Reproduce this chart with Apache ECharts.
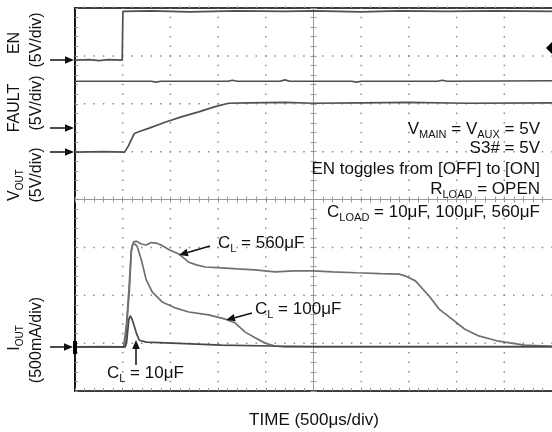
<!DOCTYPE html>
<html>
<head>
<meta charset="utf-8">
<script src="https://cdn.jsdelivr.net/npm/echarts@6/dist/echarts.min.js"></script>
<style>html,body{margin:0;padding:0;background:#fff}#c{width:552px;height:432px}</style>
</head>
<body>
<div id="c"></div>
<script>
// Time axis: µs relative to the screen centre (500 µs/div, 10 divisions)
const timeRange = [-2500, 2500];
const timeStep = 500;
// Vertical axis: screen divisions relative to the centre (8 divisions)
const divRange = [-4, 4];
const divStep = 1;

// Traces: [time µs, position in divisions]
const enTrace = [[-2500,2.91],[-2350,2.92],[-2250,2.90],[-2150,2.92],[-2005,2.91],[-1998,3.93],[-1700,3.94],[-1300,3.92],[-800,3.94],[-300,3.93],[0,3.94],[500,3.92],[900,3.94],[1400,3.93],[1900,3.94],[2500,3.93]];
const faultTrace = [[-2500,2.47],[-1700,2.47],[-1650,2.45],[-1600,2.47],[-900,2.47],[-850,2.49],[-800,2.47],[-350,2.47],[-300,2.50],[-250,2.47],[400,2.47],[450,2.45],[500,2.47],[1300,2.47],[1350,2.49],[1400,2.47],[2500,2.48]];
const voutTrace = [[-2500,0.99],[-2200,1.00],[-1980,0.99],[-1964,1.00],[-1940,1.12],[-1912,1.24],[-1878,1.38],[-1826,1.42],[-1722,1.49],[-1549,1.62],[-1377,1.73],[-1203,1.83],[-1030,1.94],[-892,2.01],[-685,2.02],[-300,2.03],[0,2.01],[500,2.02],[1000,2.03],[1600,2.01],[2500,2.02]];
const iout560 = [[-2500,-3.08],[-2200,-3.07],[-1990,-3.08],[-1960,-2.60],[-1935,-1.89],[-1910,-1.06],[-1888,-0.89],[-1857,-0.87],[-1805,-0.93],[-1753,-0.95],[-1701,-0.90],[-1650,-0.91],[-1597,-0.95],[-1514,-1.05],[-1411,-1.14],[-1307,-1.31],[-1220,-1.37],[-1131,-1.41],[-965,-1.43],[-800,-1.45],[-612,-1.47],[-405,-1.51],[-200,-1.49],[0,-1.49],[200,-1.51],[446,-1.53],[700,-1.55],[900,-1.56],[965,-1.60],[1068,-1.70],[1214,-2.02],[1317,-2.29],[1452,-2.50],[1587,-2.71],[1732,-2.85],[1940,-2.96],[2075,-3.00],[2210,-3.04],[2448,-3.06],[2500,-3.07]];
const iout100 = [[-2500,-3.08],[-1975,-3.08],[-1960,-3.04],[-1930,-1.90],[-1910,-1.10],[-1898,-0.95],[-1870,-0.93],[-1846,-0.99],[-1805,-1.26],[-1753,-1.68],[-1691,-1.93],[-1587,-2.14],[-1442,-2.27],[-1307,-2.35],[-1100,-2.41],[-923,-2.50],[-819,-2.58],[-716,-2.77],[-612,-2.89],[-508,-3.00],[-405,-3.06],[-300,-3.08],[2500,-3.08]];
const iout10 = [[-2500,-3.08],[-1975,-3.08],[-1960,-3.00],[-1935,-2.50],[-1919,-2.43],[-1898,-2.52],[-1870,-2.70],[-1857,-2.79],[-1826,-2.94],[-1753,-2.98],[-1483,-3.00],[-965,-3.04],[-446,-3.06],[0,-3.07],[2500,-3.07]];

const FONT = 'Liberation Sans, Arial, sans-serif';
const INK = '#111';

function arrow(x1, y1, x2, y2) {
  const dx = x2 - x1, dy = y2 - y1, L = Math.hypot(dx, dy);
  const ux = dx / L, uy = dy / L, hl = 9, hw = 3.8;
  const bx = x2 - ux * hl, by = y2 - uy * hl;
  return [
    {type:'line', shape:{x1:x1, y1:y1, x2:bx, y2:by}, style:{stroke:INK, lineWidth:1.5}, z:100},
    {type:'polygon', shape:{points:[[x2,y2],[bx - uy*hw, by + ux*hw],[bx + uy*hw, by - ux*hw]]}, style:{fill:INK}, z:100}
  ];
}
function richSet(size, sub) {
  return {
    m: {fontSize:size, fontFamily:FONT, fill:INK, lineHeight:size + 5},
    s: {fontSize:sub, fontFamily:FONT, fill:INK, lineHeight:sub, verticalAlign:'bottom'}
  };
}
function txt(x, y, text, opts) {
  opts = opts || {};
  const size = opts.size || 17;
  return {
    type:'text', x:x, y:y, rotation: opts.rot || 0, z:100,
    style:{text:text, rich: richSet(size, opts.sub || Math.round(size*0.64)), align: opts.align || 'left', verticalAlign:'middle'}
  };
}

const baseAxis = {type:'value', min:timeRange[0], max:timeRange[1], interval:timeStep, axisLabel:{show:false}, splitLine:{show:false}};
const baseY = {type:'value', min:divRange[0], max:divRange[1], interval:divStep, axisLabel:{show:false}, splitLine:{show:false}};
const tickGray = '#9a9a9a';

const xAxes = [
  Object.assign({}, baseAxis, {position:'bottom', axisLine:{show:true, onZero:false, lineStyle:{color:'#000', width:1.6}},
    axisTick:{show:true, inside:true, length:3, lineStyle:{color:'#888'}},
    minorTick:{show:true, splitNumber:5, length:3, lineStyle:{color:'#999'}}}),
  Object.assign({}, baseAxis, {position:'bottom', axisLine:{show:true, onZero:true, onZeroAxisIndex:0, lineStyle:{color:tickGray, width:1}},
    axisTick:{show:true, inside:true, length:3, lineStyle:{color:tickGray}},
    minorTick:{show:true, splitNumber:5, length:3, lineStyle:{color:tickGray}}}),
  Object.assign({}, baseAxis, {position:'bottom', axisLine:{show:false, onZero:true, onZeroAxisIndex:0},
    axisTick:{show:true, inside:false, length:3, lineStyle:{color:tickGray}},
    minorTick:{show:true, splitNumber:5, length:3, lineStyle:{color:tickGray}}}),
  Object.assign({}, baseAxis, {position:'top', axisLine:{show:true, onZero:false, lineStyle:{color:'#000', width:1.6}},
    axisTick:{show:false}, minorTick:{show:true, splitNumber:5, length:2, lineStyle:{color:'#aaa'}}})
];
const yAxes = [
  Object.assign({}, baseY, {position:'left', axisLine:{show:true, onZero:false, lineStyle:{color:'#000', width:1.8}},
    axisTick:{show:true, inside:true, length:3, lineStyle:{color:'#888'}},
    minorTick:{show:true, splitNumber:5, length:3, lineStyle:{color:'#999'}}}),
  Object.assign({}, baseY, {position:'left', axisLine:{show:true, onZero:true, onZeroAxisIndex:0, lineStyle:{color:tickGray, width:1}},
    axisTick:{show:true, inside:true, length:3, lineStyle:{color:tickGray}},
    minorTick:{show:true, splitNumber:5, length:3, lineStyle:{color:tickGray}}}),
  Object.assign({}, baseY, {position:'left', axisLine:{show:false, onZero:true, onZeroAxisIndex:0},
    axisTick:{show:true, inside:false, length:3, lineStyle:{color:tickGray}},
    minorTick:{show:true, splitNumber:5, length:3, lineStyle:{color:tickGray}}})
];

function trace(name, data, color, w) {
  return {name:name, type:'line', data:data, xAxisIndex:0, yAxisIndex:0, symbol:'none', silent:true,
    lineStyle:{color:color, width:w}, z:10, animation:false};
}

const labels = [].concat(
  // left-side channel labels (rotated)
  txt(15, 43, '{m|EN}', {rot:Math.PI/2, size:16, align:'center'}),
  txt(37, 40, '{m|(5V/div)}', {rot:Math.PI/2, size:16, align:'center'}),
  txt(15, 108, '{m|FAULT}', {rot:Math.PI/2, size:16, align:'center'}),
  txt(37, 103, '{m|(5V/div)}', {rot:Math.PI/2, size:16, align:'center'}),
  txt(15, 185, '{m|V}{s|OUT}', {rot:Math.PI/2, size:16, align:'center'}),
  txt(37, 175, '{m|(5V/div)}', {rot:Math.PI/2, size:16, align:'center'}),
  txt(15, 338, '{m|I}{s|OUT}', {rot:Math.PI/2, size:16, align:'center'}),
  txt(37, 340, '{m|(500mA/div)}', {rot:Math.PI/2, size:16, align:'center'}),
  arrow(50, 60, 74, 60),
  arrow(50, 128, 74, 128),
  arrow(50, 152, 74, 152),
  arrow(50, 347, 73, 347),
  [{type:'rect', shape:{x:73, y:341, width:4, height:13}, style:{fill:'#000'}, z:100}],
  [{type:'polygon', shape:{points:[[546,48],[553,41],[560,48],[553,55]]}, style:{fill:'#000'}, z:100}],
  // conditions block
  txt(540, 129, '{m|V}{s|MAIN}{m| = V}{s|AUX}{m| = 5V}', {align:'right'}),
  txt(540, 148, '{m|S3# = 5V}', {align:'right'}),
  txt(540, 169, '{m|EN toggles from [OFF] to [ON]}', {align:'right'}),
  txt(540, 189, '{m|R}{s|LOAD}{m| = OPEN}', {align:'right'}),
  txt(540, 212, '{m|C}{s|LOAD}{m| = 10μF, 100μF, 560μF}', {align:'right'}),
  // curve call-outs
  txt(218, 243, '{m|C}{s|L}{m| = 560μF}'),
  arrow(210, 246, 179, 255),
  txt(255, 309, '{m|C}{s|L}{m| = 100μF}'),
  arrow(252, 313, 226, 320),
  txt(107, 373, '{m|C}{s|L}{m| = 10μF}'),
  arrow(136, 365, 136, 340),
  // x-axis title
  txt(314, 420, '{m|TIME (500μs/div)}', {align:'center'})
);

const chart = echarts.init(document.getElementById('c'), null, {renderer:'canvas'});
chart.setOption({
  animation:false,
  backgroundColor:'#fff',
  grid:{left:75, top:8, width:482, height:383, show:false},
  xAxis:xAxes,
  yAxis:yAxes,
  series:[
    trace('EN', enTrace, '#505050', 1.7),
    trace('FAULT', faultTrace, '#505050', 1.7),
    trace('VOUT', voutTrace, '#505050', 1.7),
    trace('IOUT 560uF', iout560, '#707070', 1.7),
    trace('IOUT 100uF', iout100, '#707070', 1.7),
    trace('IOUT 10uF', iout10, '#474747', 1.7)
  ]
});

// Dotted graticule: positions come from the axes' own scales
const gridDots = [];
const yTop = chart.convertToPixel({yAxisIndex:0}, divRange[1]);
const yBot = chart.convertToPixel({yAxisIndex:0}, divRange[0]);
const xL = chart.convertToPixel({xAxisIndex:0}, timeRange[0]);
const xR = chart.convertToPixel({xAxisIndex:0}, timeRange[1]);
const vMinor = (yBot - yTop) / ((divRange[1] - divRange[0]) / divStep) / 5;
const hMinor = (xR - xL) / ((timeRange[1] - timeRange[0]) / timeStep) / 5;
for (let t = timeRange[0] + timeStep; t < timeRange[1]; t += timeStep) {
  if (t === 0) continue;
  const px = chart.convertToPixel({xAxisIndex:0}, t);
  gridDots.push({type:'line', silent:true, z:1, shape:{x1:px, y1:yTop, x2:px, y2:yBot},
    style:{stroke:'#8a8a8a', lineWidth:1.5, lineDash:[1.5, vMinor - 1.5], lineDashOffset:0.75}});
}
for (let v = divRange[0] + divStep; v < divRange[1]; v += divStep) {
  if (v === 0) continue;
  const py = chart.convertToPixel({yAxisIndex:0}, v);
  gridDots.push({type:'line', silent:true, z:1, shape:{x1:xL, y1:py, x2:xR, y2:py},
    style:{stroke:'#8a8a8a', lineWidth:1.5, lineDash:[1.5, hMinor - 1.5], lineDashOffset:0.75}});
}
chart.setOption({graphic: gridDots.concat(labels)});
</script>
</body>
</html>
